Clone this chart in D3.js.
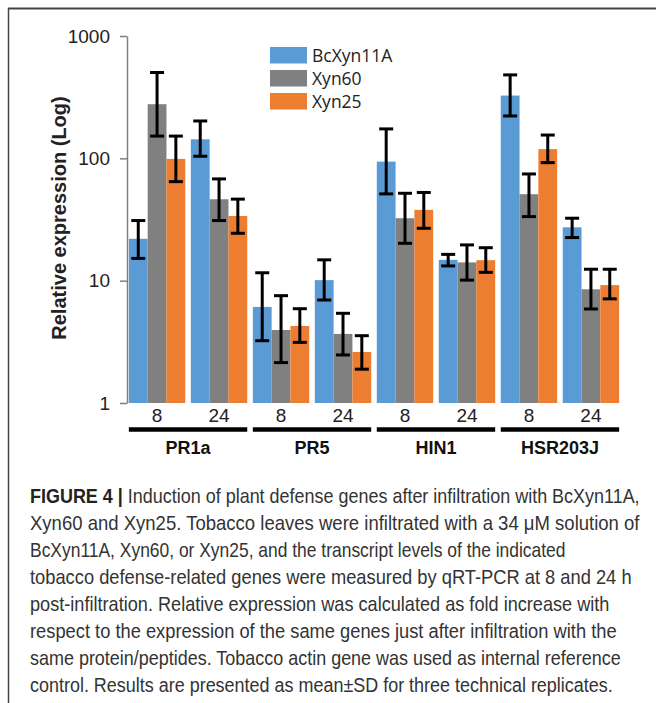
<!DOCTYPE html>
<html>
<head>
<meta charset="utf-8">
<script src="https://cdn.jsdelivr.net/npm/d3@7"></script>
<style>
  body { margin: 0; background: #fff; }
  svg { display: block; }
</style>
</head>
<body>
<script>
// genes, time points (h) and peptides
var genes = ["PR1a", "PR5", "HIN1", "HSR203J"];
var times = ["8", "24"];
var series = ["BcXyn11A", "Xyn60", "Xyn25"];
var colors = ["#5b9bd5", "#808080", "#ed7d31"];

// mean relative expression, one entry per gene x time (PR1a-8, PR1a-24, PR5-8 ...)
var bcxyn11a = [22, 143, 6.1, 10.1, 94, 14.8, 326, 27.3];
var xyn60    = [277, 46.3, 3.95, 3.67, 32.4, 14.1, 50.9, 8.5];
var xyn25    = [99, 33.8, 4.26, 2.61, 37.9, 14.7, 119, 9.2];

// error bar ends (mean + SD, mean - SD)
var bcxyn11aHi = [31, 202, 11.6, 14.8, 174, 16.4, 481, 32.4];
var bcxyn11aLo = [15.2, 104, 3.23, 6.95, 51.2, 13.2, 222, 22.5];
var xyn60Hi    = [503, 67.9, 7.54, 5.41, 51.8, 19.6, 74.5, 12.4];
var xyn60Lo    = [152, 31, 2.14, 2.47, 20.2, 10.1, 33.4, 5.87];
var xyn25Hi    = [152, 46.4, 5.9, 3.55, 52.6, 18.6, 155, 12.4];
var xyn25Lo    = [64.5, 24.4, 3.13, 1.89, 26.8, 11.7, 92.2, 7.1];

var yTicks = [1, 10, 100, 1000];

var caption = [
  "Induction of plant defense genes after infiltration with BcXyn11A,",
  "Xyn60 and Xyn25. Tobacco leaves were infiltrated with a 34 \u03bcM solution of",
  "BcXyn11A, Xyn60, or Xyn25, and the transcript levels of the indicated",
  "tobacco defense-related genes were measured by qRT-PCR at 8 and 24 h",
  "post-infiltration. Relative expression was calculated as fold increase with",
  "respect to the expression of the same genes just after infiltration with the",
  "same protein/peptides. Tobacco actin gene was used as internal reference",
  "control. Results are presented as mean\u00b1SD for three technical replicates."
];
// right end of each caption line in the original layout
var captionEnds = [640, 640, 566, 632, 610, 617, 621, 613];

var means = [bcxyn11a, xyn60, xyn25];
var his = [bcxyn11aHi, xyn60Hi, xyn25Hi];
var los = [bcxyn11aLo, xyn60Lo, xyn25Lo];

var clusters = [];
genes.forEach(function(g) { times.forEach(function(t) { clusters.push(g + "-" + t); }); });

var svg = d3.select("body").append("svg")
  .attr("width", 657)
  .attr("height", 703);

// frame
svg.append("line").attr("x1", 8).attr("x2", 656).attr("y1", 8.5).attr("y2", 8.5)
  .attr("stroke", "#444").attr("stroke-width", 2);
svg.append("line").attr("x1", 8.5).attr("x2", 8.5).attr("y1", 8).attr("y2", 703)
  .attr("stroke", "#444").attr("stroke-width", 1.5);

var y = d3.scaleLog().domain([1, 1000]).range([403, 36]);
var x0 = d3.scaleBand().domain(clusters).range([127, 621]).paddingInner(0.09).paddingOuter(0.03);
var x1 = d3.scaleBand().domain(series).range([0, x0.bandwidth()]);

// bars
series.forEach(function(s, si) {
  svg.append("g").selectAll("rect")
    .data(means[si])
    .enter()
    .append("rect")
    .attr("x", function(d, i) { return x0(clusters[i]) + x1(s); })
    .attr("y", function(d) { return y(d); })
    .attr("width", x1.bandwidth())
    .attr("height", function(d) { return y(1) - y(d); })
    .attr("fill", colors[si]);
});

// error bars
series.forEach(function(s, si) {
  var g = svg.append("g").attr("stroke", "#000").attr("stroke-width", 3);
  means[si].forEach(function(d, i) {
    var cx = x0(clusters[i]) + x1(s) + x1.bandwidth() / 2;
    var hi = y(his[si][i]), lo = y(los[si][i]);
    g.append("line").attr("x1", cx).attr("x2", cx).attr("y1", hi).attr("y2", lo);
    g.append("line").attr("x1", cx - 7).attr("x2", cx + 7).attr("y1", hi).attr("y2", hi);
    g.append("line").attr("x1", cx - 7).attr("x2", cx + 7).attr("y1", lo).attr("y2", lo);
  });
});

// y axis
var yAxis = svg.append("g")
  .attr("transform", "translate(127,0)")
  .call(d3.axisLeft(y).tickValues(yTicks).tickFormat(d3.format("d")).tickSize(7).tickSizeOuter(0).tickPadding(10));
yAxis.select(".domain").attr("stroke", "#7f7f7f").attr("stroke-width", 1.5);
yAxis.selectAll(".tick line").attr("stroke", "#7f7f7f").attr("stroke-width", 1.5);
yAxis.selectAll(".tick text")
  .attr("font-family", "Liberation Sans, Arial, sans-serif")
  .attr("font-size", 19)
  .attr("fill", "#222");

svg.append("text")
  .attr("transform", "translate(66,218) rotate(-90)")
  .attr("text-anchor", "middle")
  .attr("font-family", "Liberation Sans, Arial, sans-serif")
  .attr("font-weight", "bold")
  .attr("font-size", 20)
  .attr("fill", "#222")
  .text("Relative expression (Log)");

// time labels
svg.append("g").selectAll("text")
  .data(clusters)
  .enter()
  .append("text")
  .attr("x", function(d) { return x0(d) + x0.bandwidth() / 2; })
  .attr("y", 422)
  .attr("text-anchor", "middle")
  .attr("font-family", "Liberation Sans, Arial, sans-serif")
  .attr("font-size", 19)
  .attr("fill", "#222")
  .text(function(d) { return d.split("-")[1]; });

// gene brackets and labels
genes.forEach(function(g) {
  var a = x0(g + "-" + times[0]), b = x0(g + "-" + times[1]) + x0.bandwidth();
  svg.append("line")
    .attr("x1", a).attr("x2", b).attr("y1", 429.5).attr("y2", 429.5)
    .attr("stroke", "#000").attr("stroke-width", 4.3);
  svg.append("text")
    .attr("x", (a + b) / 2)
    .attr("y", 454)
    .attr("text-anchor", "middle")
    .attr("font-family", "Liberation Sans, Arial, sans-serif")
    .attr("font-weight", "bold")
    .attr("font-size", 18)
    .attr("fill", "#111")
    .text(g);
});

// legend
var legend = svg.append("g").attr("transform", "translate(270,47)");
series.forEach(function(s, si) {
  legend.append("rect")
    .attr("x", 0).attr("y", si * 23)
    .attr("width", 37).attr("height", 16.5)
    .attr("fill", colors[si]);
  legend.append("text")
    .attr("x", 42).attr("y", si * 23 + 15)
    .attr("font-family", "Open Sans, sans-serif")
    .attr("font-size", 17.5)
    .attr("fill", "#222")
    .text(s);
});

// caption (no condensed face installed, so each line is squeezed horizontally)
caption.forEach(function(line, i) {
  var g = svg.append("g")
    .attr("font-family", "Liberation Sans, Arial, sans-serif")
    .attr("font-size", 20)
    .attr("fill", "#333");
  var t = g.append("text").attr("x", 0).attr("y", 0);
  if (i === 0) {
    t.append("tspan").attr("font-weight", "bold").attr("fill", "#222").text("FIGURE 4 | ");
  }
  t.append("tspan").text(line);
  var w = t.node().getComputedTextLength();
  var sx = (captionEnds[i] - 30) / w;
  g.attr("transform", "translate(30," + (503 + i * 27) + ") scale(" + sx + ",1)");
});
</script>
</body>
</html>
